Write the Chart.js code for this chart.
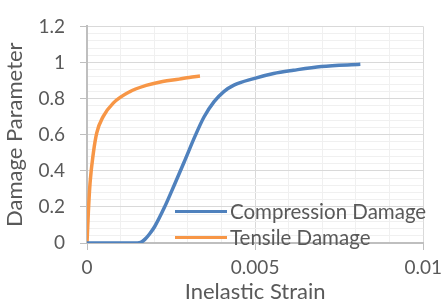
<!DOCTYPE html>
<html lang="en">
<head>
    <meta charset="UTF-8">
    <title>Damage Parameter vs Inelastic Strain</title>
    <script src="https://cdn.jsdelivr.net/npm/chart.js"></script>
    <style>
        html, body { margin: 0; padding: 0; background: #fff; }
        #wrap { width: 448px; height: 303px; }
    </style>
</head>
<body>
    <div id="wrap"><canvas id="damageChart" width="448" height="303"></canvas></div>

    <script>
        // values
        const compStrain = [0, 0.001, 0.0015, 0.0016, 0.00172, 0.00186, 0.00201, 0.0023, 0.0026, 0.00289, 0.00322, 0.00348, 0.00378, 0.00407, 0.00437, 0.00496, 0.00555, 0.00614, 0.00697, 0.00813];
        const compDamage = [0, 0, 0, 0.003, 0.02, 0.05, 0.09, 0.196, 0.323, 0.449, 0.595, 0.698, 0.783, 0.839, 0.875, 0.911, 0.939, 0.957, 0.978, 0.99];

        const tensStrain = [0, 0.00004, 0.00009, 0.00019, 0.00029, 0.00048, 0.00078, 0.00127, 0.00176, 0.00225, 0.00274, 0.00304, 0.00336];
        const tensDamage = [0, 0.17, 0.33, 0.5, 0.61, 0.7, 0.775, 0.838, 0.873, 0.895, 0.908, 0.917, 0.925];

        const xTickLabels = ['0', '0.005', '0.01'];
        const yTickLabels = ['0', '0.2', '0.4', '0.6', '0.8', '1', '1.2'];

        const textColor = '#595959';
        const fontFamily = 'Lato, "Open Sans", sans-serif';

        function toPoints(xs, ys) {
            return xs.map((x, i) => ({ x: x, y: ys[i] }));
        }

        function xIndex(v) { return Math.round(v * 1000); }
        function yIndex(v) { return Math.round(v / 0.04); }

        // legend drawn inside the plot area, lower right
        const insideLegend = {
            id: 'insideLegend',
            afterDatasetsDraw(chart) {
                const ctx = chart.ctx;
                const area = chart.chartArea;
                const x0 = area.left + 88;
                const y0 = area.top + 185;
                ctx.save();
                ctx.font = '20.5px ' + fontFamily;
                ctx.textBaseline = 'middle';
                ctx.fillStyle = textColor;
                chart.data.datasets.forEach((ds, i) => {
                    const y = y0 + i * 26;
                    ctx.strokeStyle = ds.borderColor;
                    ctx.lineWidth = 3;
                    ctx.beginPath();
                    ctx.moveTo(x0, y);
                    ctx.lineTo(x0 + 52, y);
                    ctx.stroke();
                    ctx.fillText(ds.label, x0 + 55, y + 1);
                });
                ctx.restore();
            }
        };

        const ctx = document.getElementById('damageChart').getContext('2d');
        new Chart(ctx, {
            type: 'scatter',
            data: {
                datasets: [{
                    label: 'Compression Damage',
                    data: toPoints(compStrain, compDamage),
                    showLine: true,
                    borderColor: '#4F81BD',
                    borderWidth: 3.5,
                    pointRadius: 0,
                    cubicInterpolationMode: 'monotone'
                }, {
                    label: 'Tensile Damage',
                    data: toPoints(tensStrain, tensDamage),
                    showLine: true,
                    borderColor: '#F79646',
                    borderWidth: 3.5,
                    pointRadius: 0,
                    cubicInterpolationMode: 'monotone'
                }]
            },
            options: {
                responsive: false,
                animation: false,
                layout: { padding: { top: 22, right: 22, bottom: 0, left: 0 } },
                plugins: {
                    legend: { display: false },
                    tooltip: { enabled: false }
                },
                scales: {
                    x: {
                        type: 'linear',
                        min: 0,
                        max: 0.01,
                        afterFit(scale) { scale.height = 60; },
                        border: { color: '#bfbfbf', width: 2 },
                        grid: {
                            color: c => xIndex(c.tick.value) % 5 === 0 ? '#d9d9d9' : '#f0f0f0',
                            tickColor: c => xIndex(c.tick.value) % 5 === 0 ? '#bfbfbf' : 'rgba(0,0,0,0)',
                            tickLength: 7
                        },
                        ticks: {
                            stepSize: 0.001,
                            autoSkip: false,
                            maxRotation: 0,
                            padding: 6,
                            color: textColor,
                            font: { family: fontFamily, size: 19 },
                            callback: v => xIndex(v) % 5 === 0 ? xTickLabels[xIndex(v) / 5] : ''
                        },
                        title: {
                            display: true,
                            text: 'Inelastic Strain',
                            color: textColor,
                            font: { family: fontFamily, size: 22, lineHeight: 1 },
                            padding: { top: 0, bottom: 0 }
                        }
                    },
                    y: {
                        min: 0,
                        max: 1.2,
                        afterFit(scale) { scale.width = 87; },
                        border: { color: '#bfbfbf', width: 2 },
                        grid: {
                            color: c => yIndex(c.tick.value) % 5 === 0 ? '#d9d9d9' : '#f0f0f0',
                            tickColor: c => yIndex(c.tick.value) % 5 === 0 ? '#bfbfbf' : 'rgba(0,0,0,0)',
                            tickLength: 7
                        },
                        ticks: {
                            stepSize: 0.04,
                            autoSkip: false,
                            padding: 15,
                            color: textColor,
                            font: { family: fontFamily, size: 19 },
                            callback: v => yIndex(v) % 5 === 0 ? yTickLabels[yIndex(v) / 5] : ''
                        },
                        title: {
                            display: true,
                            text: 'Damage Parameter',
                            color: textColor,
                            font: { family: fontFamily, size: 22, lineHeight: 1 },
                            padding: { top: 4, bottom: 0 }
                        }
                    }
                }
            },
            plugins: [insideLegend]
        });
    </script>
</body>
</html>
